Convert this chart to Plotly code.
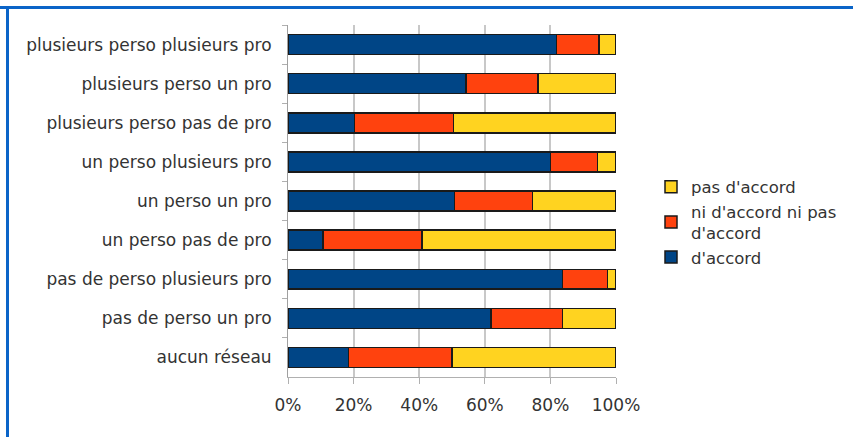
import plotly.graph_objects as go

categories = [
    "plusieurs perso plusieurs pro",
    "plusieurs perso un pro",
    "plusieurs perso pas de pro",
    "un perso plusieurs pro",
    "un perso un pro",
    "un perso pas de pro",
    "pas de perso plusieurs pro",
    "pas de perso un pro",
    "aucun réseau",
]
d_accord = [81.8, 54.3, 20.2, 80.0, 50.7, 10.7, 83.7, 61.9, 18.4]
ni_ni = [13.0, 21.9, 30.3, 14.3, 23.8, 30.1, 13.7, 21.8, 31.6]
pas_accord = [5.2, 23.8, 49.5, 5.7, 25.5, 59.2, 2.6, 16.3, 50.0]

series = [
    ("d'accord", d_accord, "#004586"),
    ("ni d'accord ni pas<br>d'accord", ni_ni, "#ff420e"),
    ("pas d'accord", pas_accord, "#ffd320"),
]

fig = go.Figure()
for name, vals, color in series:
    fig.add_trace(go.Bar(
        y=categories, x=vals, name=name, orientation="h",
        marker=dict(color=color, line=dict(color="#1a1a1a", width=1.5)),
    ))

W, H = 853, 437
L, R, T, B = 288, 237, 25, 60
PW, PH = W - L - R, H - T - B

font = dict(family="DejaVu Sans", size=17, color="#333333")
fig.update_layout(
    barmode="stack",
    barnorm="percent",
    bargap=0.49,
    width=W, height=H,
    margin=dict(l=L, r=R, t=T, b=B, autoexpand=False),
    plot_bgcolor="white", paper_bgcolor="white",
    font=font,
    showlegend=True,
    legend=dict(traceorder="reversed", x=(651 - L) / PW, xanchor="left", y=(H - B - 222) / PH,
                yanchor="middle", itemwidth=30,
                font=dict(family="DejaVu Sans", size=16.5, color="#333333"),
                tracegroupgap=0),
    xaxis=dict(range=[0, 100], ticksuffix="%", dtick=20, showgrid=True,
               gridcolor="#c8c8c8", gridwidth=2, zeroline=False,
               showline=True, linecolor="#b0b0b0", linewidth=1,
               ticks="outside", ticklen=6, tickcolor="#b0b0b0", ticklabelstandoff=7),
    yaxis=dict(autorange="reversed", showline=True, linecolor="#a0a0a0", linewidth=1,
               ticks="outside", ticklen=5, tickcolor="#b0b0b0", tickson="boundaries",
               ticklabelstandoff=12),
    shapes=[
        dict(type="line", xref="paper", yref="paper", x0=-L / PW, x1=(W - L) / PW,
             y0=(H - B - 7.5) / PH, y1=(H - B - 7.5) / PH, line=dict(color="#0a64c8", width=3)),
        dict(type="line", xref="paper", yref="paper", x0=-(L - 7.5) / PW, x1=-(L - 7.5) / PW,
             y0=-B / PH, y1=(H - B - 6) / PH, line=dict(color="#0a64c8", width=3)),
    ],
)
fig.write_html("out.html", config={"displayModeBar": False},
               post_script="document.body.style.margin='0';")
